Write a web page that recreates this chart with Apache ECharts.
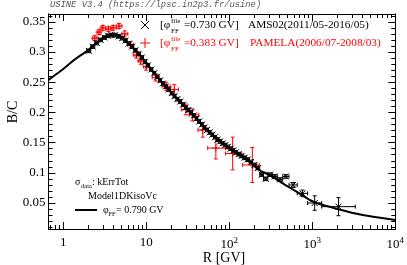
<!DOCTYPE html>
<html><head><meta charset="utf-8">
<script src="https://cdn.jsdelivr.net/npm/echarts@6/dist/echarts.min.js"></script>
<style>html,body{margin:0;padding:0;background:#fff}#c{width:407px;height:265px}</style>
</head><body><div id="c"></div>
<script>
// AMS02 bin edges (GV), bin centres and B/C values
const amsEdges = [1.92,2.15,2.40,2.67,2.97,3.29,3.64,4.02,4.43,4.88,5.37,5.90,6.47,7.09,7.76,8.48,9.26,10.1,11.0,12.0,13.0,14.1,15.3,16.6,18.0,19.5,21.1,22.8,24.7,26.7,28.8,31.1,33.5,36.1,38.9,41.9,45.1,48.5,52.2,56.1,60.3,64.8,69.7,74.9,80.5,86.5,93.0,100,108,116,125,135,147,160,175,192,211,233,259,291,330,379,441,525,660,880,1300,3300];
const amsR = [2.03,2.27,2.53,2.82,3.13,3.46,3.83,4.22,4.65,5.12,5.63,6.18,6.77,7.42,8.11,8.86,9.67,10.5,11.5,12.5,13.5,14.7,15.9,17.3,18.7,20.3,21.9,23.7,25.7,27.7,29.9,32.3,34.8,37.5,40.4,43.5,46.8,50.3,54.1,58.2,62.5,67.2,72.3,77.6,83.4,89.7,96.4,104,112,120,130,141,153,167,183,201,222,246,275,310,354,409,481,589,762,1070,2070];
const amsBC = [0.302,0.309,0.315,0.320,0.324,0.327,0.328,0.328,0.326,0.323,0.319,0.314,0.309,0.303,0.297,0.291,0.284,0.278,0.271,0.265,0.259,0.253,0.248,0.243,0.238,0.232,0.227,0.222,0.218,0.213,0.208,0.204,0.200,0.195,0.190,0.185,0.180,0.175,0.171,0.167,0.163,0.159,0.155,0.152,0.149,0.146,0.143,0.140,0.137,0.134,0.131,0.128,0.125,0.122,0.118,0.113,0.108,0.097,0.090,0.097,0.094,0.089,0.094,0.080,0.066,0.050,0.044];
const amsErr = [0.003,0.003,0.003,0.003,0.003,0.003,0.003,0.003,0.003,0.003,0.003,0.003,0.003,0.003,0.003,0.003,0.003,0.003,0.003,0.003,0.003,0.003,0.003,0.003,0.003,0.003,0.003,0.003,0.003,0.003,0.003,0.003,0.003,0.003,0.003,0.003,0.003,0.003,0.003,0.003,0.003,0.003,0.003,0.003,0.003,0.003,0.003,0.003,0.003,0.003,0.003,0.003,0.003,0.003,0.003,0.003,0.003,0.003,0.003,0.003,0.003,0.003,0.003,0.004,0.0055,0.012,0.015];

// PAMELA points: R centre, low/high R, B/C, error
const pamR  = [2.4,2.7,3.0,3.5,4.0,4.7,5.5,6.5,7.6,8.6,10.0,13.0,17.4,21.8,30.0,36.0,48.0,69.0,110,190];
const pamRlo= [2.25,2.55,2.85,3.25,3.75,4.35,5.1,6.0,7.0,8.0,9.3,11.8,15.5,19.5,26.5,33.0,42.0,55.0,90,145];
const pamRhi= [2.55,2.85,3.25,3.75,4.35,5.1,6.0,7.0,8.0,9.3,10.8,14.5,19.5,24.5,33.0,43.0,55.0,91.0,140,230];
const pamBC = [0.323,0.333,0.340,0.338,0.340,0.343,0.330,0.312,0.295,0.285,0.276,0.258,0.243,0.238,0.205,0.196,0.171,0.141,0.132,0.113];
const pamErr= [0.004,0.004,0.004,0.004,0.004,0.004,0.005,0.005,0.005,0.005,0.006,0.006,0.007,0.008,0.009,0.010,0.012,0.018,0.027,0.029];

// Model curve (phi_FF = 0.790 GV)
const modR  = [0.665,0.8,1.0,1.3,1.6,2.0,2.5,3.0,3.6,4.3,5.0,6.0,7.0,8.3,10,12,15,18,22,27,33,40,50,60,70,85,100,130,175,240,300,435,700,1000,1500,2000,3000,5000,10000];
const modBC = [0.254,0.262,0.272,0.285,0.294,0.303,0.315,0.323,0.328,0.328,0.324,0.315,0.306,0.296,0.282,0.268,0.252,0.240,0.227,0.214,0.202,0.190,0.176,0.165,0.158,0.148,0.140,0.130,0.118,0.103,0.097,0.083,0.066,0.053,0.045,0.040,0.034,0.028,0.022];

const xMajor = [1,10,100,1000,10000];
const xMinor = [0.7,0.8,0.9,2,3,4,5,6,7,8,9,20,30,40,50,60,70,80,90,200,300,400,500,600,700,800,900,2000,3000,4000,5000,6000,7000,8000,9000];
const yMajor = [0.05,0.1,0.15,0.2,0.25,0.3,0.35];
const yMinor = [0.01,0.02,0.03,0.04,0.06,0.07,0.08,0.09,0.11,0.12,0.13,0.14,0.16,0.17,0.18,0.19,0.21,0.22,0.23,0.24,0.26,0.27,0.28,0.29,0.31,0.32,0.33,0.34,0.36];

const SERIF = '"Liberation Serif","Times New Roman",serif';
const FS = '11.3px ';
const FA = '10px ';
const XMIN = 0.665, XMAX = 10000, YMIN = 0.007, YMAX = 0.363;

const amsData = amsR.map((r,i)=>[r, amsBC[i], amsEdges[i], amsEdges[i+1], amsBC[i]-amsErr[i], amsBC[i]+amsErr[i]]);
const pamData = pamR.map((r,i)=>[r, pamBC[i], pamRlo[i], pamRhi[i], pamBC[i]-pamErr[i], pamBC[i]+pamErr[i]]);

function errRender(color, marker, ms){
  return function(params, api){
    const p = api.coord([api.value(0), api.value(1)]);
    const xl = api.coord([api.value(2), api.value(1)])[0];
    const xh = api.coord([api.value(3), api.value(1)])[0];
    const yl = api.coord([api.value(0), api.value(4)])[1];
    const yh = api.coord([api.value(0), api.value(5)])[1];
    const st = {stroke: color, lineWidth: 1};
    const ch = [
      {type:'line', shape:{x1:xl,y1:p[1],x2:xh,y2:p[1]}, style:st},
      {type:'line', shape:{x1:p[0],y1:yl,x2:p[0],y2:yh}, style:st},
      {type:'line', shape:{x1:xl,y1:p[1]-2,x2:xl,y2:p[1]+2}, style:st},
      {type:'line', shape:{x1:xh,y1:p[1]-2,x2:xh,y2:p[1]+2}, style:st},
      {type:'line', shape:{x1:p[0]-2,y1:yl,x2:p[0]+2,y2:yl}, style:st},
      {type:'line', shape:{x1:p[0]-2,y1:yh,x2:p[0]+2,y2:yh}, style:st}
    ];
    if (marker === 'x') {
      ch.push({type:'line', shape:{x1:p[0]-ms,y1:p[1]-ms,x2:p[0]+ms,y2:p[1]+ms}, style:st});
      ch.push({type:'line', shape:{x1:p[0]-ms,y1:p[1]+ms,x2:p[0]+ms,y2:p[1]-ms}, style:st});
    } else {
      ch.push({type:'line', shape:{x1:p[0]-ms,y1:p[1],x2:p[0]+ms,y2:p[1]}, style:st});
      ch.push({type:'line', shape:{x1:p[0],y1:p[1]-ms,x2:p[0],y2:p[1]+ms}, style:st});
    }
    return {type:'group', children: ch};
  };
}

function xAx(pos, ticks, len, labels){
  return {type:'log', logBase:10, min:XMIN, max:XMAX, position:pos,
    axisLine:{show:true, onZero:false, lineStyle:{color:'#000', width:1}},
    axisTick:{show:true, inside:true, length:len, customValues:ticks, lineStyle:{color:'#000', width:1}},
    axisLabel: labels ? {show:true, customValues:ticks, margin:7, color:'#000', fontFamily:SERIF, fontSize:13,
      formatter: function(v){ const e = Math.round(Math.log10(v)); if (e<=1) return '{b|'+Math.round(v)+'}'; return '{b|10}{s|'+e+'}'; },
      rich:{ b:{fontFamily:SERIF, fontSize:13, color:'#000'}, s:{fontFamily:SERIF, fontSize:9, color:'#000', padding:[0,0,8,0]} } } : {show:false},
    splitLine:{show:false}, minorTick:{show:false}};
}
function yAx(pos, ticks, len, labels){
  return {type:'value', min:YMIN, max:YMAX, position:pos,
    axisLine:{show:true, onZero:false, lineStyle:{color:'#000', width:1}},
    axisTick:{show:true, inside:true, length:len, customValues:ticks, lineStyle:{color:'#000', width:1}},
    axisLabel: labels ? {show:true, customValues:ticks, margin:3, color:'#000', fontFamily:SERIF, fontSize:13} : {show:false},
    splitLine:{show:false}};
}

const chart = echarts.init(document.getElementById('c'), null, {renderer:'canvas'});
chart.setOption({
  animation:false,
  backgroundColor:'#fff',
  grid:{left:48.5, top:14, right:10, bottom:36, containLabel:false},
  xAxis:[xAx('bottom', xMajor, 7, true), xAx('top', xMajor, 7, false), xAx('bottom', xMinor, 4, false), xAx('top', xMinor, 4, false)],
  yAxis:[yAx('left', yMajor, 7, true), yAx('right', yMajor, 7, false), yAx('left', yMinor, 4, false), yAx('right', yMinor, 4, false)],
  series:[
    {type:'line', xAxisIndex:0, yAxisIndex:0, data: modR.map((r,i)=>[r, modBC[i]]), smooth:0.3, showSymbol:false, lineStyle:{color:'#000', width:2}, z:3},
    {type:'custom', xAxisIndex:0, yAxisIndex:0, data: pamData, renderItem: errRender('#ff0000','+',3.5), z:4, clip:true},
    {type:'custom', xAxisIndex:0, yAxisIndex:0, data: amsData, renderItem: errRender('#000000','x',3), z:5, clip:true}
  ],
  graphic:[
    {type:'text', left:50, top:0, style:{text:'USINE V3.4 (https://lpsc.in2p3.fr/usine)', font:'italic 8.8px "Liberation Mono", monospace', fill:'#555'}},
    {type:'text', x:13, y:112, rotation:Math.PI/2, style:{text:'B/C', font:'14px '+SERIF, fill:'#000', align:'center', verticalAlign:'middle'}},
    {type:'text', x:224, y:258, style:{text:'R [GV]', font:'14px '+SERIF, fill:'#000', align:'center', verticalAlign:'middle'}},
    // legend
    {type:'line', shape:{x1:141,y1:21,x2:149,y2:29}, style:{stroke:'#000', lineWidth:1}},
    {type:'line', shape:{x1:141,y1:29,x2:149,y2:21}, style:{stroke:'#000', lineWidth:1}},
    {type:'text', x:160, y:25, style:{text:'[φ', font:FS+SERIF, fill:'#000', verticalAlign:'middle'}},
    {type:'text', x:171, y:21, style:{text:'file', font:'7px '+SERIF, fill:'#000', verticalAlign:'middle'}},
    {type:'text', x:171, y:31, style:{text:'FF', font:'7px '+SERIF, fill:'#000', verticalAlign:'middle'}},
    {type:'text', x:184, y:25, style:{text:'=0.730 GV]', font:FS+SERIF, fill:'#000', verticalAlign:'middle'}},
    {type:'text', x:248, y:25, style:{text:'AMS02(2011/05-2016/05)', font:FS+SERIF, fill:'#000', verticalAlign:'middle'}},
    {type:'line', shape:{x1:140,y1:43,x2:150,y2:43}, style:{stroke:'#ff0000', lineWidth:1}},
    {type:'line', shape:{x1:145,y1:38,x2:145,y2:48}, style:{stroke:'#ff0000', lineWidth:1}},
    {type:'text', x:160, y:43, style:{text:'[φ', font:FS+SERIF, fill:'#ff0000', verticalAlign:'middle'}},
    {type:'text', x:171, y:39, style:{text:'file', font:'7px '+SERIF, fill:'#ff0000', verticalAlign:'middle'}},
    {type:'text', x:171, y:49, style:{text:'FF', font:'7px '+SERIF, fill:'#ff0000', verticalAlign:'middle'}},
    {type:'text', x:184, y:43, style:{text:'=0.383 GV]', font:FS+SERIF, fill:'#ff0000', verticalAlign:'middle'}},
    {type:'text', x:250, y:43, style:{text:'PAMELA(2006/07-2008/03)', font:FS+SERIF, fill:'#ff0000', verticalAlign:'middle'}},
    // model annotation
    {type:'text', x:75, y:182, style:{text:'σ', font:FA+SERIF, fill:'#000', verticalAlign:'middle'}},
    {type:'text', x:81, y:186, style:{text:'data', font:'6.5px '+SERIF, fill:'#000', verticalAlign:'middle'}},
    {type:'text', x:92, y:182, style:{text:': kErrTot', font:FA+SERIF, fill:'#000', verticalAlign:'middle'}},
    {type:'text', x:88, y:196, style:{text:'Model1DKisoVc', font:FA+SERIF, fill:'#000', verticalAlign:'middle'}},
    {type:'line', shape:{x1:75,y1:210,x2:97,y2:210}, style:{stroke:'#000', lineWidth:2}},
    {type:'text', x:103, y:210, style:{text:'φ', font:FA+SERIF, fill:'#000', verticalAlign:'middle'}},
    {type:'text', x:108.5, y:214, style:{text:'FF', font:'6.5px '+SERIF, fill:'#000', verticalAlign:'middle'}},
    {type:'text', x:116, y:210, style:{text:'= 0.790 GV', font:FA+SERIF, fill:'#000', verticalAlign:'middle'}}
  ]
});
</script></body></html>
